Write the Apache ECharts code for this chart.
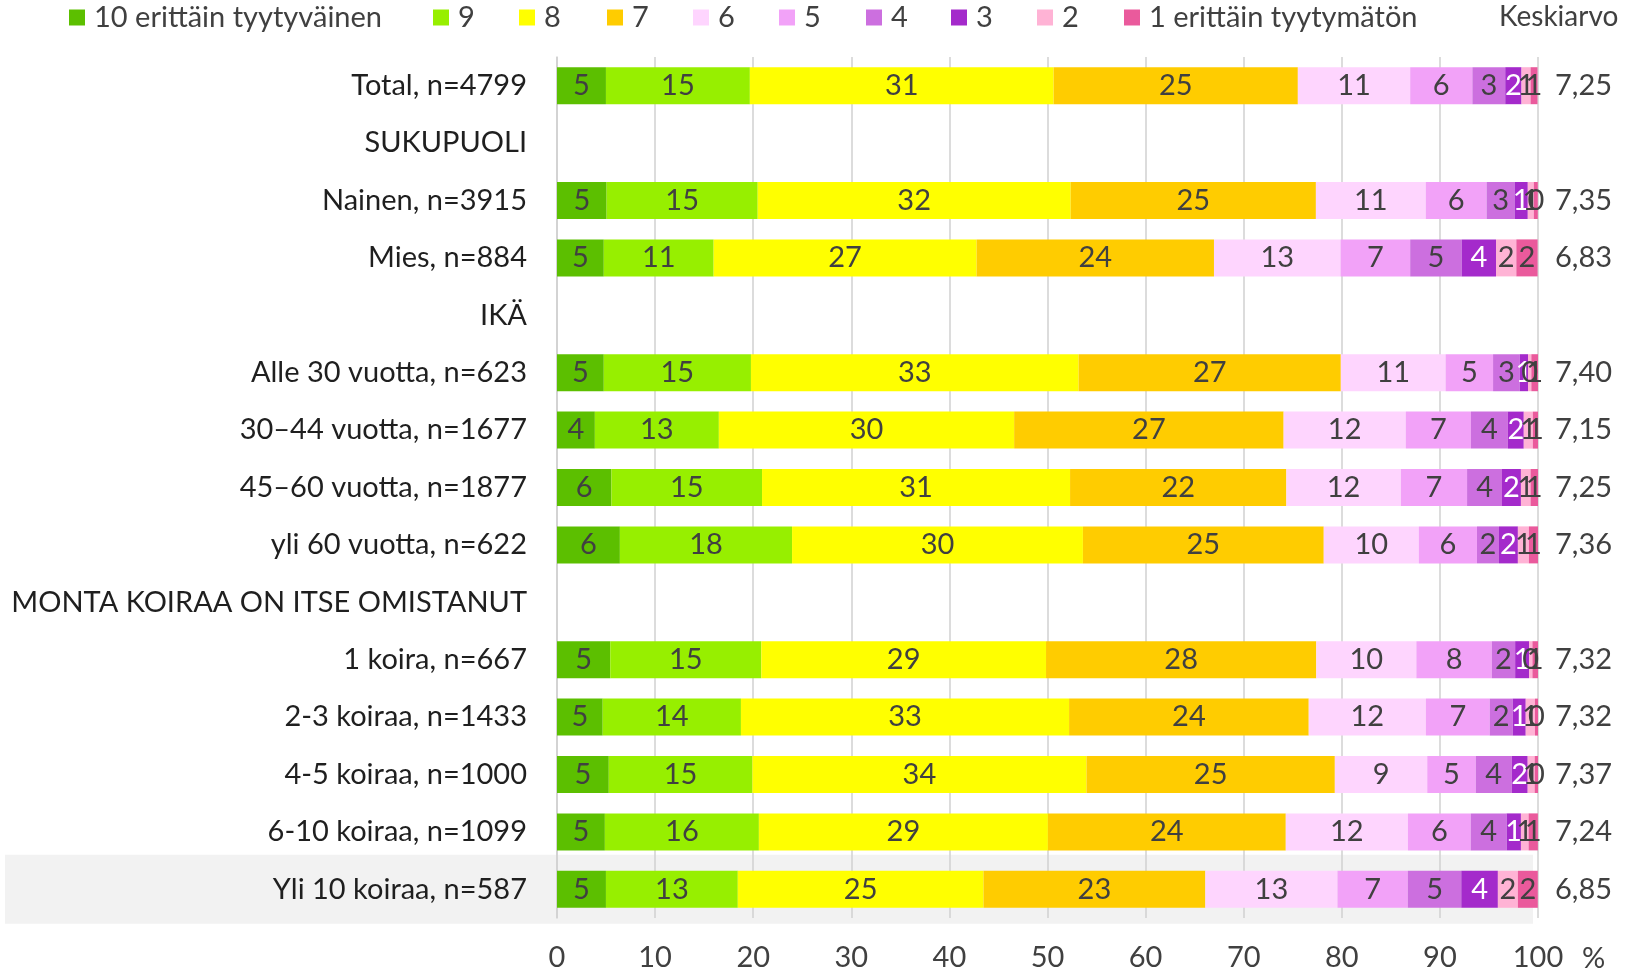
<!DOCTYPE html>
<html>
<head>
<meta charset="utf-8">
<script src="https://cdn.jsdelivr.net/npm/echarts/dist/echarts.min.js"></script>
<style>
html,body{margin:0;padding:0;background:#fff;}
#chart{width:1627px;height:975px;}
</style>
</head>
<body>
<div id="chart"></div>
<script>
const categories = ['Total, n=4799','SUKUPUOLI','Nainen, n=3915','Mies, n=884','IKÄ','Alle 30 vuotta, n=623','30–44 vuotta, n=1677','45–60 vuotta, n=1877','yli 60 vuotta, n=622','MONTA KOIRAA ON ITSE OMISTANUT','1 koira, n=667','2-3 koiraa, n=1433','4-5 koiraa, n=1000','6-10 koiraa, n=1099','Yli 10 koiraa, n=587'];
const seriesNames = ['10 erittäin tyytyväinen','9','8','7','6','5','4','3','2','1 erittäin tyytymätön'];
const s10 = [4.99, null, 5.06, 4.77, null, 4.77, 3.86, 5.55, 6.41, null, 5.43, 4.66, 5.28, 4.88, 4.99];
const s9  = [14.67, null, 15.4, 11.2, null, 15.0, 12.64, 15.35, 17.55, null, 15.4, 14.09, 14.64, 15.7, 13.44];
const s8  = [30.96, null, 31.9, 26.8, null, 33.4, 30.1, 31.4, 29.65, null, 29.02, 33.45, 34.05, 29.46, 25.05];
const s7  = [24.9, null, 25.0, 24.2, null, 26.73, 27.47, 22.05, 24.55, null, 27.55, 24.43, 25.32, 24.25, 22.61];
const s6  = [11.45, null, 11.2, 12.9, null, 10.68, 12.45, 11.67, 9.69, null, 10.2, 11.94, 9.42, 12.45, 13.47];
const s5  = [6.34, null, 6.2, 7.1, null, 4.84, 6.64, 6.75, 5.93, null, 7.69, 6.51, 4.95, 6.4, 7.17];
const s4  = [3.35, null, 2.85, 5.25, null, 2.72, 3.77, 3.56, 2.24, null, 2.38, 2.34, 3.66, 3.66, 5.45];
const s3  = [1.66, null, 1.35, 3.5, null, 0.84, 1.62, 1.93, 1.93, null, 1.42, 1.33, 1.63, 1.46, 3.73];
const s2  = [0.92, null, 0.61, 2.07, null, 0.34, 0.92, 0.98, 1.12, null, 0.34, 0.94, 0.71, 0.78, 2.04];
const s1  = [0.71, null, 0.41, 2.17, null, 0.68, 0.53, 0.76, 0.93, null, 0.57, 0.31, 0.34, 0.95, 2.03];
const means = [7.25, null, 7.35, 6.83, null, 7.40, 7.15, 7.25, 7.36, null, 7.32, 7.32, 7.37, 7.24, 6.85];
const xTicks = [0, 10, 20, 30, 40, 50, 60, 70, 80, 90, 100];

const seriesData = [s10, s9, s8, s7, s6, s5, s4, s3, s2, s1];
const colors = ['#5cbf00','#97ef00','#ffff00','#ffcc00','#fed5fe','#f2a2f8','#cc6fdf','#a42acb','#ffb3d5','#ea5a9c'];
const FONT = 'Lato';
const FS = 29;

const chart = echarts.init(document.getElementById('chart'), null, {renderer: 'canvas'});

const legendLefts = [69, 433, 519, 607, 693, 779, 866, 951, 1037, 1124];
const legends = seriesNames.map((n, i) => ({
  left: legendLefts[i], top: 3, padding: 0, data: [n], icon: 'rect',
  itemWidth: 16, itemHeight: 16, itemGap: 0, selectedMode: false,
  textStyle: {fontFamily: FONT, fontSize: FS, color: '#404040', padding: [0, 0, 0, 4]}
}));

const option = {
  animation: false,
  backgroundColor: '#ffffff',
  color: colors,
  textStyle: {fontFamily: FONT},
  legend: legends,
  title: {text: 'Keskiarvo', left: 1499, top: 3, padding: 0, textStyle: {fontFamily: FONT, fontSize: 28, fontWeight: 'normal', color: '#404040'}},
  grid: {left: 557, right: 89, top: 57, bottom: 57, containLabel: false},
  xAxis: {
    type: 'value', min: 0, max: 100, interval: 10,
    name: '%', nameLocation: 'end', nameGap: 44,
    nameTextStyle: {fontFamily: FONT, fontSize: FS, color: '#404040', verticalAlign: 'top', padding: [26, 0, 0, 0]},
    axisLine: {show: false}, axisTick: {show: false},
    splitLine: {show: true, lineStyle: {color: '#d0d0d0', width: 1.5}},
    axisLabel: {fontFamily: FONT, fontSize: FS, color: '#404040', margin: 25,
      formatter: v => xTicks.indexOf(v) >= 0 ? String(v) : ''}
  },
  yAxis: [{
    type: 'category', data: categories, inverse: true,
    axisLine: {show: true, lineStyle: {color: '#d0d0d0', width: 1.5}}, axisTick: {show: false},
    axisLabel: {fontFamily: FONT, fontSize: FS, color: '#1f1f1f', margin: 30}
  }, {
    type: 'category', data: categories, inverse: true, position: 'right',
    axisLine: {show: false}, axisTick: {show: false},
    axisLabel: {fontFamily: FONT, fontSize: FS, color: '#404040', margin: 17, align: 'left',
      formatter: (v, idx) => means[idx] == null ? '' : means[idx].toFixed(2).replace('.', ',')}
  }],
  series: seriesData.map((d, i) => ({
    name: seriesNames[i], type: 'bar', stack: 'total', barWidth: 37,
    data: d.map(v => v == null ? '-' : v),
    itemStyle: {color: colors[i]},
    label: {
      show: true, position: 'inside', fontFamily: FONT, fontSize: FS,
      color: i === 7 ? '#ffffff' : '#404040',
      formatter: p => (typeof p.value === 'number') ? String(Math.round(p.value)) : ''
    },
    z: 2
  }))
};
chart.setOption(option);

const yLast = chart.convertToPixel({yAxisIndex: 0}, categories[categories.length - 1]);
const x100 = chart.convertToPixel({xAxisIndex: 0}, 100);
chart.setOption({
  graphic: [{
    type: 'rect', silent: true, z: -10,
    shape: {x: 5, y: yLast - 34.5, width: x100 - 5 - 5, height: 69},
    style: {fill: '#f2f2f2'}
  }]
});
</script>
</body>
</html>
